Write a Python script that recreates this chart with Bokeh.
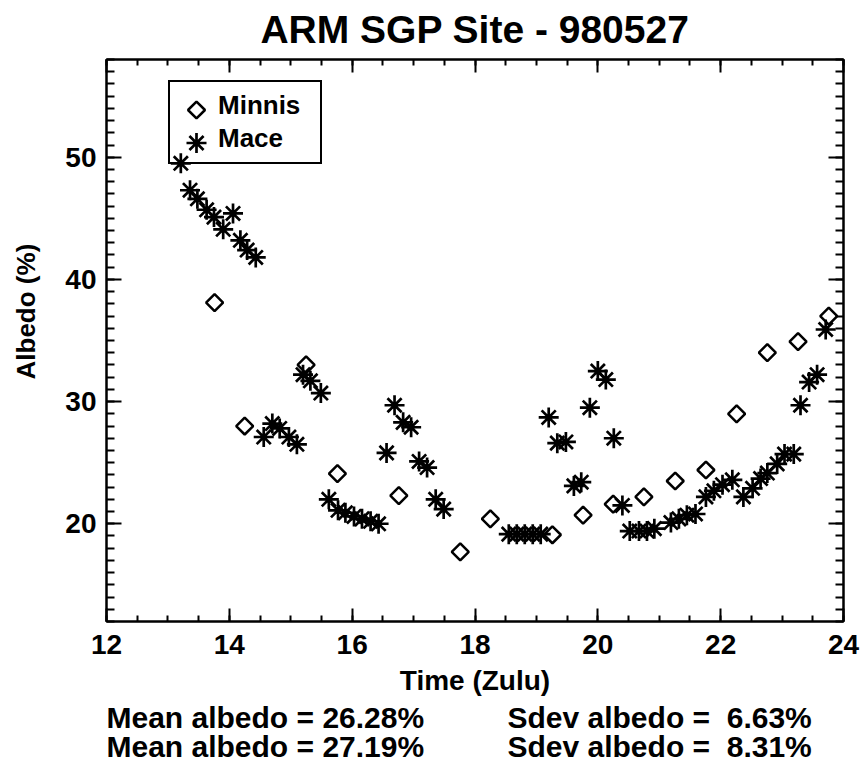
import numpy as np
from bokeh.plotting import figure
from bokeh.models import (Range1d, LinearAxis, SingleIntervalTicker, CustomJSTickFormatter,
                          Legend, LegendItem, Title)
from bokeh.embed import file_html
from bokeh.resources import INLINE

# ---------------- data ----------------
title_text = "ARM SGP Site - 980527"
x_label = "Time (Zulu)"
y_label = "Albedo (%)"
series_names = ["Minnis", "Mace"]

minnis_time = [13.76, 14.25, 15.25, 15.76, 16.76, 17.76, 18.25, 19.26, 19.76, 20.25,
               20.75, 21.26, 21.76, 22.26, 22.76, 23.26, 23.76]
minnis_albedo = [38.1, 28.0, 33.0, 24.1, 22.3, 17.7, 20.4, 19.1, 20.7, 21.6,
                 22.2, 23.5, 24.4, 29.0, 34.0, 34.9, 37.0]

mace_time = [13.21, 13.36, 13.48, 13.63, 13.75, 13.90, 14.06, 14.18, 14.29, 14.43,
             14.56, 14.70, 14.82, 14.97, 15.10, 15.20, 15.32, 15.49, 15.62, 15.77,
             15.89, 16.03, 16.16, 16.30, 16.43, 16.56, 16.69, 16.83, 16.96, 17.09,
             17.22, 17.36, 17.49, 18.55, 18.68, 18.81, 18.94, 19.07, 19.20, 19.34,
             19.48, 19.61, 19.73, 19.87, 20.00, 20.13, 20.26, 20.40, 20.52, 20.67,
             20.80, 20.92, 21.19, 21.32, 21.45, 21.59, 21.76, 21.89, 22.03, 22.19,
             22.37, 22.52, 22.65, 22.76, 22.92, 23.04, 23.19, 23.30, 23.44, 23.57,
             23.71]
mace_albedo = [49.5, 47.3, 46.6, 45.7, 45.1, 44.1, 45.4, 43.2, 42.4, 41.8,
               27.1, 28.2, 27.8, 27.1, 26.5, 32.2, 31.7, 30.7, 22.0, 21.1,
               20.9, 20.6, 20.4, 20.2, 20.0, 25.8, 29.7, 28.3, 27.9, 25.1,
               24.6, 22.0, 21.2, 19.15, 19.15, 19.15, 19.15, 19.15, 28.7, 26.6,
               26.7, 23.1, 23.4, 29.5, 32.5, 31.8, 27.0, 21.5, 19.4, 19.4,
               19.4, 19.6, 20.1, 20.4, 20.7, 20.8, 22.2, 22.7, 23.2, 23.6,
               22.2, 22.9, 23.7, 24.15, 24.9, 25.7, 25.7, 29.7, 31.6, 32.2,
               35.9]

mean_values = ["26.28", "27.19"]
sdev_values = [" 6.63", " 8.31"]

x_lo, x_hi = 12, 24
y_lo, y_hi = 12, 58

FONT = "Liberation Sans"
NB = "\u00a0"

# ---------------- layout geometry (pixels) ----------------
W, H = 864, 769
B_LEFT, B_RIGHT, B_TOP, B_BOTTOM = 106, 21, 59, 148
FRAME_W = W - B_LEFT - B_RIGHT
FRAME_H = H - B_TOP - B_BOTTOM

DIAMOND = dict(marker="square", angle=np.pi / 4, size=12,
               fill_color=None, line_color="black", line_width=2.5)
ASTER = dict(marker="asterisk", size=20, line_color="black", line_width=2.7)

# ---------------- figure ----------------
p = figure(width=W, height=H, output_backend="svg", toolbar_location=None,
           x_range=Range1d(x_lo, x_hi), y_range=Range1d(y_lo, y_hi),
           min_border_left=B_LEFT, min_border_right=B_RIGHT,
           min_border_top=B_TOP, min_border_bottom=B_BOTTOM,
           x_axis_location=None, y_axis_location=None)
p.xgrid.grid_line_color = None
p.ygrid.grid_line_color = None
p.outline_line_color = "black"
p.outline_line_width = 2
p.background_fill_color = "white"
p.border_fill_color = "white"

p.title.text = title_text
p.title.align = "center"
p.title.vertical_align = "top"
p.title.text_font = FONT
p.title.text_font_style = "bold"
p.title.text_font_size = "39px"
p.title.text_color = "black"
p.title.standoff = 14

blank = CustomJSTickFormatter(code="return ''")


def style_axis(ax, major_len, minor_len):
    ax.axis_line_width = 2
    ax.axis_line_color = "black"
    ax.major_tick_in = major_len
    ax.major_tick_out = 0
    ax.minor_tick_in = minor_len
    ax.minor_tick_out = 0
    ax.major_tick_line_width = 2
    ax.minor_tick_line_width = 2
    ax.major_label_text_font = FONT
    ax.major_label_text_font_style = "bold"
    ax.major_label_text_font_size = "28px"
    ax.major_label_text_color = "black"


xb = LinearAxis(ticker=SingleIntervalTicker(interval=2, num_minor_ticks=4))
style_axis(xb, 13, 6)
xb.major_label_standoff = 13
p.add_layout(xb, "below")

xt = LinearAxis(ticker=SingleIntervalTicker(interval=2, num_minor_ticks=4), formatter=blank)
style_axis(xt, 13, 6)
xt.major_label_standoff = 0
p.add_layout(xt, "above")

yl = LinearAxis(ticker=SingleIntervalTicker(interval=10, num_minor_ticks=10))
style_axis(yl, 15, 8)
yl.major_label_standoff = 10
# leading no-break spaces lift the (centred) rotated title above the frame centre,
# as in the original
yl.axis_label = NB * 8 + y_label
yl.axis_label_text_font = FONT
yl.axis_label_text_font_style = "bold"
yl.axis_label_text_font_size = "26px"
yl.axis_label_text_color = "black"
yl.axis_label_standoff = 21
p.add_layout(yl, "left")

yr = LinearAxis(ticker=SingleIntervalTicker(interval=10, num_minor_ticks=10), formatter=blank)
style_axis(yr, 15, 8)
yr.major_label_standoff = 0
p.add_layout(yr, "right")

# x-axis title and the statistics lines, stacked below the axis
p.add_layout(Title(text=x_label, align="center", standoff=12,
                   text_font=FONT, text_font_style="bold", text_font_size="28px",
                   text_color="black"), "below")
for mv, sv, so in zip(mean_values, sdev_values, [-6, -6]):
    line = ("Mean albedo = " + mv + "%" + NB * 10 +
            "Sdev albedo =" + NB + sv.replace(" ", NB) + "%")
    p.add_layout(Title(text=line, align="left", offset=0, standoff=so,
                       text_font=FONT, text_font_style="bold", text_font_size="30px",
                       text_color="black"), "below")

# ---------------- data marks ----------------
r_minnis = p.scatter(minnis_time, minnis_albedo, **DIAMOND)
r_mace = p.scatter(mace_time, mace_albedo, **ASTER)

# ---------------- legend ----------------
# invisible stand-ins: the legend box holds the labels, the symbols are drawn
# in the legend's glyph slots (IDL-style square diamond and full-size asterisk)
leg_r1 = p.scatter(x=[], y=[], marker="square", line_alpha=0, fill_alpha=0)
leg_r2 = p.scatter(x=[], y=[], marker="square", line_alpha=0, fill_alpha=0)

LEG_X, LEG_Y = 62, 457          # legend box bottom-left, from frame bottom-left
LEG_PAD, GLYPH_W, ROW_H, ROW_GAP, LABEL_W = 8, 40, 31, 2, 94
legend = Legend(items=[LegendItem(label=series_names[0], renderers=[leg_r1]),
                       LegendItem(label=series_names[1], renderers=[leg_r2])],
                location=(LEG_X, LEG_Y), orientation="vertical",
                border_line_color="black", border_line_width=2, border_line_alpha=1,
                background_fill_alpha=0,
                padding=LEG_PAD, spacing=ROW_GAP, margin=0,
                glyph_width=GLYPH_W, glyph_height=ROW_H, label_height=ROW_H,
                label_standoff=0, label_width=LABEL_W,
                label_text_font=FONT, label_text_font_style="bold",
                label_text_font_size="26px", label_text_color="black")
p.add_layout(legend)


def screen_to_data(sx, sy):
    """frame-relative pixel (from bottom-left) -> data coordinates"""
    return (x_lo + sx / FRAME_W * (x_hi - x_lo), y_lo + sy / FRAME_H * (y_hi - y_lo))


box_h = 2 * LEG_PAD + 2 * ROW_H + ROW_GAP
gx = LEG_X + LEG_PAD + GLYPH_W / 2
row1_y = LEG_Y + box_h - LEG_PAD - ROW_H / 2 - 2
row2_y = row1_y - ROW_H - ROW_GAP
sw1 = screen_to_data(gx, row1_y)
sw2 = screen_to_data(gx, row2_y)
p.scatter([sw1[0]], [sw1[1]], **DIAMOND)
p.scatter([sw2[0]], [sw2[1]], **ASTER)

open("out.html", "w").write(file_html(p, INLINE))
